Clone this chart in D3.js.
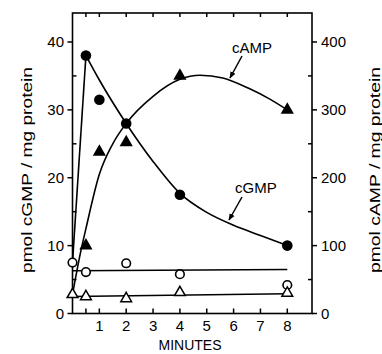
<!DOCTYPE html>
<html><head><meta charset="utf-8">
<script src="https://cdn.jsdelivr.net/npm/d3@7"></script>
<style>body{margin:0;background:#fff}svg{display:block}text{font-family:"Liberation Sans",Arial,sans-serif;fill:#000}</style>
</head><body><svg id="c" width="382" height="354"></svg>
<script>
// ---- data ----
const gmpT = [0.5, 1, 2, 4, 8];
const gmpV = [38, 31.5, 28, 17.5, 10];
const ampT = [0.5, 1, 2, 4, 8];
const ampV = [100, 238, 252, 350, 300];
const gmpCtrlT = [0, 0.5, 2, 4, 8];
const gmpCtrlV = [7.5, 6.1, 7.4, 5.8, 4.2];
const ampCtrlT = [0, 0.5, 2, 4, 8];
const ampCtrlV = [28, 25, 22, 31, 30];
const gmpFitT = [0, 0.5, 1, 2, 3, 4, 5, 6, 7, 8];
const gmpFitV = [7.5, 38, 34.4, 28, 22.4, 17.7, 14.9, 13.0, 11.5, 10];
const ampFitT = [0, 0.3, 0.5, 1, 1.5, 2, 3, 4, 4.75, 5.6, 6.6, 7.3, 8];
const ampFitV = [28, 90, 125, 205, 250, 280, 320, 345, 351, 347, 331, 317, 300];
const gmpCtrlLineT = [0, 8];
const gmpCtrlLineV = [6.3, 6.5];
const ampCtrlLineT = [0, 8];
const ampCtrlLineV = [25, 29];
const xTicks = [1, 2, 3, 4, 5, 6, 7, 8];
const xMinor = [0.5];
const leftTicks = [0, 10, 20, 30, 40];
const leftMinor = [5, 15, 25, 35];
const rightTicks = [0, 100, 200, 300, 400];
const rightMinor = [50, 150, 250, 350];

const svg = d3.select("#c");
const L = 72.5, R = 312, T = 13, B = 313.5;
const x = d3.scaleLinear().domain([0, 8.92]).range([L, R]);
const yL = d3.scaleLinear().domain([0, 44.27]).range([B, T]);
const yR = d3.scaleLinear().domain([0, 442.7]).range([B, T]);

// frame
svg.append("rect").attr("x", L).attr("y", T).attr("width", R - L).attr("height", B - T)
  .attr("fill", "none").attr("stroke", "#000").attr("stroke-width", 1.6);

const g = svg.append("g");
const tk = (x1, y1, x2, y2) => g.append("line").attr("x1", x1).attr("y1", y1).attr("x2", x2).attr("y2", y2)
  .attr("stroke", "#000").attr("stroke-width", 1.5);

// left axis
leftTicks.forEach(v => {
  tk(L - 5, yL(v), L, yL(v));
  g.append("text").attr("x", 64).attr("y", yL(v) + 5.5).attr("text-anchor", "end")
    .attr("font-size", 15).text(v);
});
leftMinor.forEach(v => tk(L, yL(v), L + 4, yL(v)));
// right axis
rightTicks.forEach(v => {
  tk(R, yR(v), R + 5, yR(v));
  g.append("text").attr("x", 321).attr("y", yR(v) + 5.5).attr("text-anchor", "start")
    .attr("font-size", 15).text(v);
});
rightMinor.forEach(v => tk(R - 4, yR(v), R, yR(v)));
// bottom & top
xTicks.concat(xMinor).forEach(t => {
  tk(x(t), B, x(t), B - 5);
  tk(x(t), T, x(t), T + 4);
});
xTicks.forEach(t => {
  g.append("text").attr("x", x(t)).attr("y", 331).attr("text-anchor", "middle")
    .attr("font-size", 15).text(t);
});

// axis titles
svg.append("text").attr("transform", "translate(32,170) rotate(-90)").attr("text-anchor", "middle")
  .attr("font-size", 15).attr("textLength", 206).attr("lengthAdjust", "spacingAndGlyphs")
  .text("pmol cGMP / mg protein");
svg.append("text").attr("transform", "translate(380,170) rotate(-90)").attr("text-anchor", "middle")
  .attr("font-size", 15).attr("textLength", 206).attr("lengthAdjust", "spacingAndGlyphs")
  .text("pmol cAMP / mg protein");
svg.append("text").attr("x", 190).attr("y", 350).attr("text-anchor", "middle")
  .attr("font-size", 14).text("MINUTES");

// lines
const zip = (a, b) => a.map((v, i) => [v, b[i]]);
const lineL = d3.line().x(d => x(d[0])).y(d => yL(d[1]));
const lineR = d3.line().x(d => x(d[0])).y(d => yR(d[1]));
const smoothL = d3.line().x(d => x(d[0])).y(d => yL(d[1])).curve(d3.curveMonotoneX);
const smoothR = d3.line().x(d => x(d[0])).y(d => yR(d[1])).curve(d3.curveMonotoneX);
const gmpFit = zip(gmpFitT, gmpFitV);
const stroke = p => p.attr("fill", "none").attr("stroke", "#000").attr("stroke-width", 1.6);
stroke(svg.append("path").attr("d", lineL(gmpFit.slice(0, 2))));
stroke(svg.append("path").attr("d", smoothL(gmpFit.slice(1))));
stroke(svg.append("path").attr("d", smoothR(zip(ampFitT, ampFitV))));
stroke(svg.append("path").attr("d", lineL(zip(gmpCtrlLineT, gmpCtrlLineV)))).attr("stroke-width", 1.5);
stroke(svg.append("path").attr("d", lineR(zip(ampCtrlLineT, ampCtrlLineV)))).attr("stroke-width", 1.5);

// markers
const tri = d3.symbol().type(d3.symbolTriangle);
zip(gmpCtrlT, gmpCtrlV).forEach(d => svg.append("circle").attr("cx", x(d[0])).attr("cy", yL(d[1])).attr("r", 4.3)
  .attr("fill", "#fff").attr("stroke", "#000").attr("stroke-width", 1.6));
zip(ampCtrlT, ampCtrlV).forEach(d => svg.append("path").attr("d", tri.size(50)())
  .attr("transform", `translate(${x(d[0])},${yR(d[1])})`)
  .attr("fill", "#fff").attr("stroke", "#000").attr("stroke-width", 1.5));
zip(gmpT, gmpV).forEach(d => svg.append("circle").attr("cx", x(d[0])).attr("cy", yL(d[1])).attr("r", 5.3).attr("fill", "#000"));
zip(ampT, ampV).forEach(d => svg.append("path").attr("d", tri.size(75)())
  .attr("transform", `translate(${x(d[0])},${yR(d[1])})`).attr("fill", "#000"));

// annotations
svg.append("defs").append("marker").attr("id", "ah").attr("viewBox", "0 0 10 10").attr("refX", 9).attr("refY", 5)
  .attr("markerWidth", 7).attr("markerHeight", 7).attr("markerUnits", "userSpaceOnUse").attr("orient", "auto")
  .append("path").attr("d", "M0,1 L10,5 L0,9 Z").attr("fill", "#000");
const ann = [
  {label: "cAMP", tx: 232, ty: 53, x1: 242, y1: 56, x2: 230, y2: 78},
  {label: "cGMP", tx: 235, ty: 193, x1: 242, y1: 197, x2: 229, y2: 220}
];
ann.forEach(a => {
  svg.append("text").attr("x", a.tx).attr("y", a.ty).attr("font-size", 15).text(a.label);
  svg.append("line").attr("x1", a.x1).attr("y1", a.y1).attr("x2", a.x2).attr("y2", a.y2)
    .attr("stroke", "#000").attr("stroke-width", 1.5).attr("marker-end", "url(#ah)");
});
</script></body></html>
